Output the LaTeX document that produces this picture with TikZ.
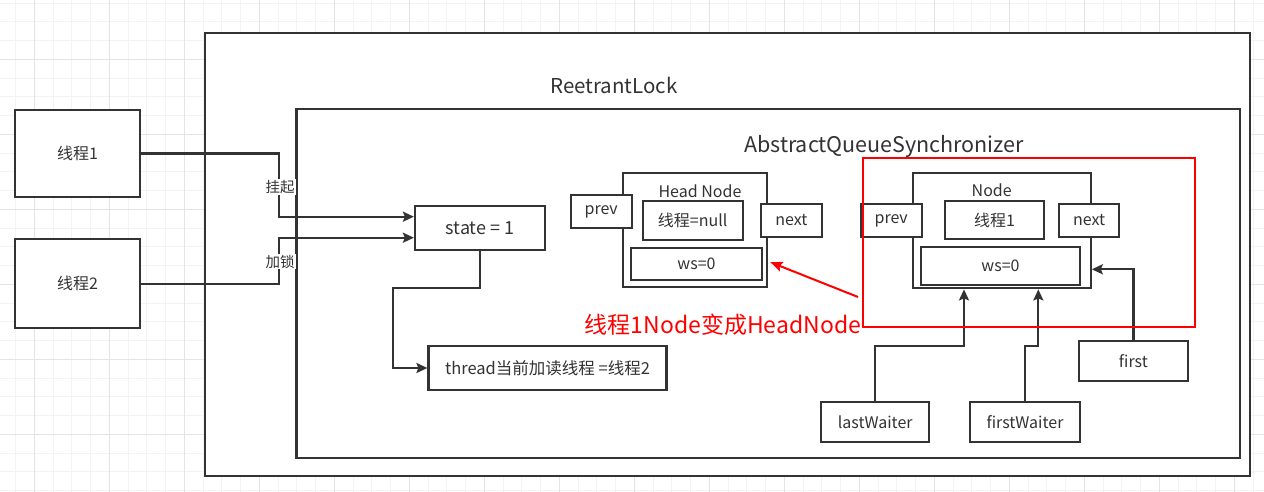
\documentclass[tikz,border=0pt]{standalone}
\usepackage{fontspec}
\setmainfont{Noto Sans CJK SC}
\usetikzlibrary{arrows.meta}
\definecolor{ln}{HTML}{333333}
\definecolor{gmin}{HTML}{F3F3F3}
\definecolor{gmaj}{HTML}{E4E4E4}
\begin{document}
\begin{tikzpicture}[x=1pt,y=-1pt,
  box/.style={draw=ln, line width=2.2pt, fill=white, text=ln, inner sep=0pt, font=\fontsize{16}{19}\selectfont},
  txt/.style={text=ln, inner sep=0pt},
  lbl/.style={fill=white, text=ln, inner sep=1pt, font=\fontsize{14.5}{17}\selectfont},
  arr/.style={draw=ln, line width=2.2pt, -{Stealth[length=11pt,width=10pt,inset=2pt]}},
  redarr/.style={draw=red, line width=2pt, -{Stealth[length=12pt,width=10pt,inset=2pt]}}]
\useasboundingbox (0,0) rectangle (1264,492);
\fill[white] (0,0) rectangle (1264,492);
\foreach \i in {0,...,67} \draw[gmin, line width=1pt] ({15.55+\i*18.75},0) -- ++(0,492);
\foreach \i in {0,...,26} \draw[gmin, line width=1pt] (0,{3.05+\i*18.75}) -- ++(1264,0);
\foreach \i in {0,...,16} \draw[gmaj, line width=1pt] ({34.3+\i*75},0) -- ++(0,492);
\foreach \i in {0,...,7} \draw[gmaj, line width=1pt] (0,{-15.7+\i*75}) -- ++(1264,0);

% containers
\node[box, minimum width=1045, minimum height=443] (rl) at (727.5,254.5) {};
\node[txt, font=\fontsize{20.5}{24}\selectfont] (rltxt) at (614,85) {ReetrantLock};
\node[box, minimum width=943.5, minimum height=349] (aqs) at (768.25,283.5) {};
\node[txt, font=\fontsize{21.5}{25}\selectfont] (aqstxt) at (884,146) {AbstractQueueSynchronizer};

% threads
\node[box, minimum width=125, minimum height=87.5] (t1) at (77.5,153.5) {线程1};
\node[box, minimum width=125, minimum height=88.7] (t2) at (77.5,283.7) {线程2};

% state and thread
\node[box, minimum width=130, minimum height=44, font=\fontsize{18}{21}\selectfont] (state) at (480,228) {state = 1};
\node[box, minimum width=238, minimum height=44, font=\fontsize{16.5}{19}\selectfont] (thr) at (547.5,368) {thread当前加读线程 =线程2};

% head node
\node[box, minimum width=144, minimum height=113.4] (hn) at (695.3,230) {};
\node[txt, font=\fontsize{16}{19}\selectfont] (hntxt) at (700,191.5) {Head Node};
\node[box, minimum width=61, minimum height=33.3] (prev1) at (601.2,211.7) {prev};
\node[box, minimum width=100, minimum height=39.3] (tnull) at (692.7,220.3) {线程=null};
\node[box, minimum width=60.7, minimum height=32.4] (next1) at (791.3,220.5) {next};
\node[box, minimum width=131.6, minimum height=31.7] (ws1) at (696.5,264.2) {ws=0};

% node
\node[box, minimum width=178, minimum height=115] (nd) at (1001.7,230.8) {};
\node[txt, font=\fontsize{16}{19}\selectfont] (ndtxt) at (991.7,190.7) {Node};
\node[box, minimum width=61, minimum height=32.4] (prev2) at (891.2,220.5) {prev};
\node[box, minimum width=99, minimum height=38.3] (t1in) at (994.5,220.2) {线程1};
\node[box, minimum width=60.3, minimum height=32.4] (next2) at (1089.2,220.5) {next};
\node[box, minimum width=159, minimum height=38.3] (ws2) at (1000.5,265.8) {ws=0};

% waiters
\node[box, minimum width=108.3, minimum height=39.4] (lastW) at (875.2,422) {lastWaiter};
\node[box, minimum width=110, minimum height=39.4] (firstW) at (1025,422) {firstWaiter};
\node[box, minimum width=108.7, minimum height=39.7] (first) at (1133.4,360.8) {first};

% connectors
\coordinate (c1) at (279,216.7);
\coordinate (c2) at (279,237.7);
\draw[arr] (t1.east) -| (c1) -- (state.west |- c1);
\draw[arr] (t2.east) -| (c2) -- (state.west |- c2);
\node[lbl] (l1) at (280,187) {挂起};
\node[lbl] (l2) at (280,261.5) {加锁};

\coordinate (c3) at (392.7,287.7);
\draw[arr] (state.south) |- (c3) |- (thr.west);

\coordinate (c4) at (964,345.7);
\coordinate (c5) at (1038.3,345.7);
\coordinate (c6) at (1133.4,269.3);
\draw[arr] (lastW.north) |- (c4) -- (c4 |- nd.south);
\draw[arr] (firstW.north) |- (c5) -- (c5 |- nd.south);
\draw[arr] (first.north) -- (c6) -- (nd.east |- c6);

% red annotations
\draw[red, line width=2pt] (862.7,158.3) rectangle (1195,327.3);
\node[inner sep=0pt, text=red, font=\fontsize{23}{27}\selectfont] (rt) at (723,325) {线程1Node变成HeadNode};
\coordinate (r0) at (858,297);
\draw[redarr] (r0) -- ([xshift=7pt,yshift=2pt]ws1.east);
\end{tikzpicture}
\end{document}
